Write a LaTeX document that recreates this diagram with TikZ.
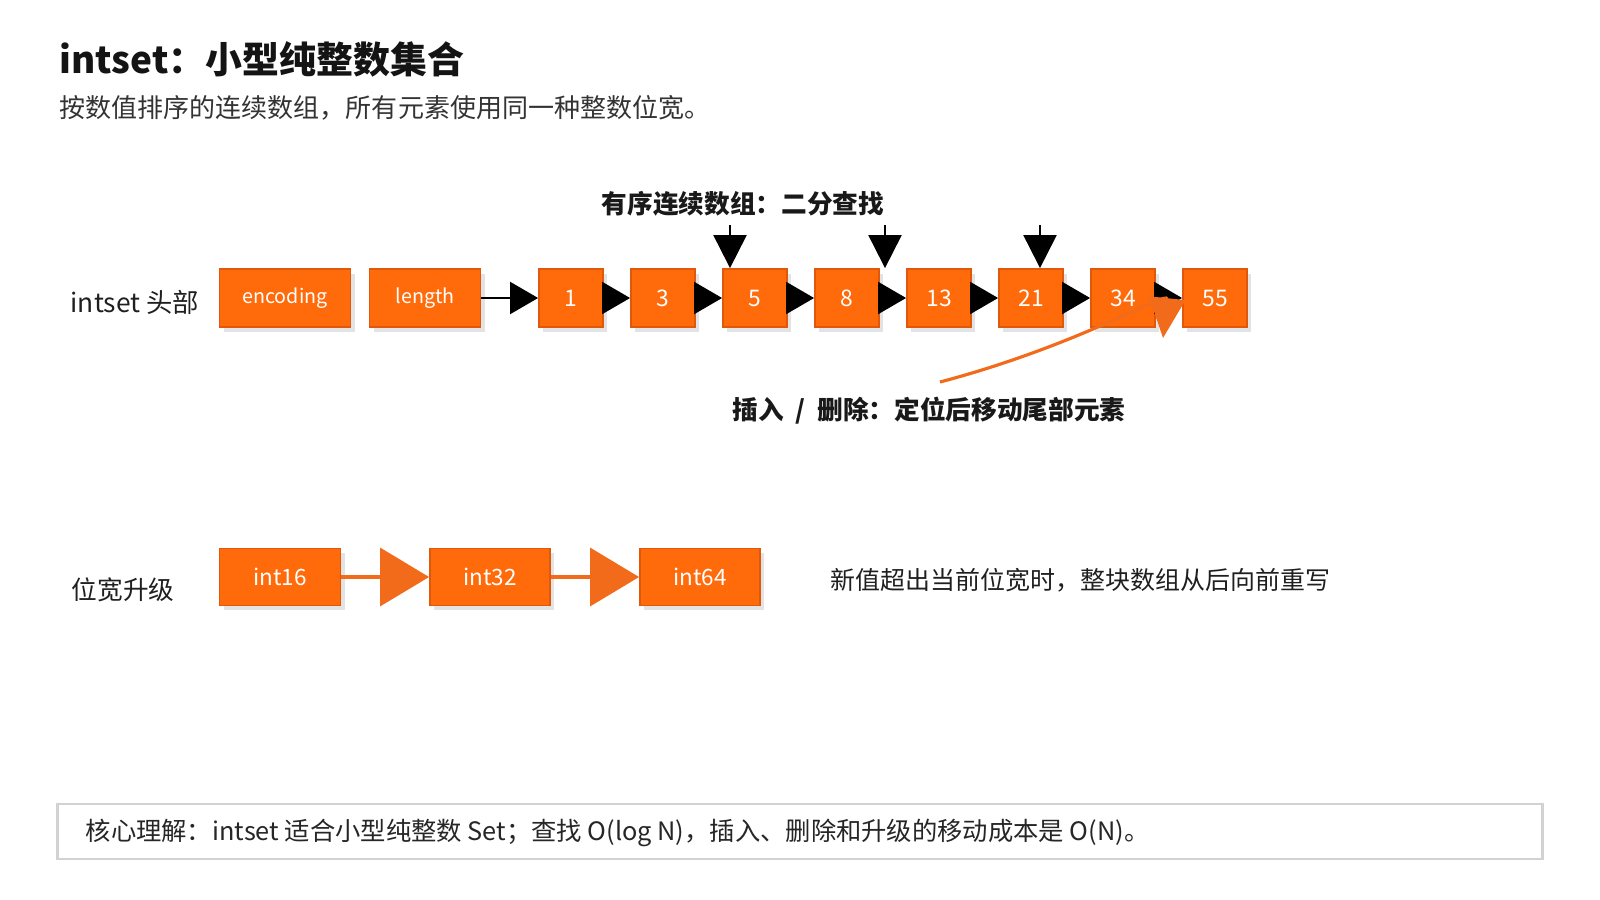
\documentclass[tikz,border=0pt]{standalone}
\usepackage{fontspec}
\setmainfont{Noto Sans CJK SC}
\usetikzlibrary{arrows.meta,shadows}
\definecolor{boxorange}{HTML}{FF6A0A}
\definecolor{boxedge}{HTML}{E0580C}
\definecolor{lineorange}{HTML}{F26B1A}
\definecolor{textgray}{HTML}{333333}
\definecolor{framegray}{HTML}{D2D2D2}

\begin{document}
\begin{tikzpicture}[x=0.01cm,y=-0.01cm,
  cell/.style={draw=boxedge, line width=0.5pt, fill=boxorange, text=white, inner sep=0pt,
    minimum height=0.58cm, drop shadow={opacity=0.22, shadow xshift=1.2pt, shadow yshift=-1.4pt}},
  numcell/.style={cell, minimum width=0.64cm, font=\fontsize{6.5}{7}\selectfont},
  widecell/.style={cell, minimum height=0.57cm, minimum width=1.2cm, font=\fontsize{6.4}{7}\selectfont},
  blkarrow/.style={line width=0.6pt, -{Triangle[length=0.28cm, width=0.32cm]}},
  probearrow/.style={line width=0.6pt, -{Triangle[length=0.33cm, width=0.33cm]}},
  widenarrow/.style={lineorange, line width=1pt, -{Triangle[length=0.49cm, width=0.58cm]}},
  boldlabel/.style={font=\fontsize{7.3}{8}\selectfont\bfseries, text=black!90},
  lefttext/.style={anchor=west, inner sep=0pt}]
\useasboundingbox (0,0) rectangle (1600,900);

% title
\node[lefttext, font=\fontsize{10.5}{12}\selectfont\bfseries, text=black!92] (title) at (59,59)
{intset：小型纯整数集合};
\node[lefttext, font=\fontsize{7.4}{8}\selectfont, text=textgray] (sub) at (59,108)
{按数值排序的连续数组，所有元素使用同一种整数位宽。};

% row 1: header + sorted array
\node[lefttext, font=\fontsize{7.5}{8}\selectfont, text=black!88] (hdr) at (70,302) {intset 头部};
\node[cell, minimum width=1.31cm, font=\fontsize{5.6}{6}\selectfont] (enc) at (285,298) {encoding};
\node[cell, minimum width=1.11cm, font=\fontsize{5.6}{6}\selectfont] (len) at (425,298) {length};
\node[numcell] (n1) at (571,298) {1};
\node[numcell] (n3) at (663,298) {3};
\node[numcell] (n5) at (755,298) {5};
\node[numcell] (n8) at (847,298) {8};
\node[numcell] (n13) at (939,298) {13};
\node[numcell] (n21) at (1031,298) {21};
\node[numcell] (n34) at (1123,298) {34};
\node[numcell] (n55) at (1215,298) {55};

\draw[blkarrow] (len) -- (n1);
\draw[blkarrow] (n1) -- (n3);
\draw[blkarrow] (n3) -- (n5);
\draw[blkarrow] (n5) -- (n8);
\draw[blkarrow] (n8) -- (n13);
\draw[blkarrow] (n13) -- (n21);
\draw[blkarrow] (n21) -- (n34);
\draw[blkarrow] (n34) -- (n55);

% binary search probes
\node[boldlabel] (bin) at (743,204) {有序连续数组：二分查找};
\coordinate (p1) at (730,225);
\coordinate (p2) at (885,225);
\coordinate (p3) at (1040,225);
\draw[probearrow] (p1) -- (p1 |- n5.north);
\draw[probearrow] (p2) -- (p2 |- n8.north);
\draw[probearrow] (p3) -- (p3 |- n21.north);

% insert / delete
\node[boldlabel] (del) at (929,411) {插入\hspace{0.06cm} / \hspace{0.06cm}删除：定位后移动尾部元素};
\coordinate (ins) at (1163,338);
\draw[lineorange, line width=0.9pt, -{Triangle[length=0.40cm, width=0.36cm]}]
  ([xshift=0.11cm, yshift=0.03cm]del.north) .. controls (1080,345) and (1168,290) .. (ins);

% row 2: width upgrade
\node[lefttext, font=\fontsize{7.3}{8}\selectfont, text=black!88] (up) at (71,590) {位宽升级};
\node[widecell, minimum width=1.21cm] (i16) at (280,577) {int16};
\node[widecell] (i32) at (490,577) {int32};
\node[widecell] (i64) at (700,577) {int64};
\draw[widenarrow] (i16) -- (i32);
\draw[widenarrow] (i32) -- (i64);
\node[lefttext, font=\fontsize{7.1}{8}\selectfont, text=black!88] (rw) at (830,580)
{新值超出当前位宽时，整块数组从后向前重写};

% takeaway
\node[draw=framegray, line width=0.8pt, fill=white, minimum width=14.84cm, minimum height=0.55cm,
  inner sep=0pt] (key) at (800,831.5) {};
\node[lefttext, font=\fontsize{7.2}{8}\selectfont, text=black!85] (keytxt) at (85,833)
{核心理解：intset 适合小型纯整数 Set；查找 O(log N)，插入、删除和升级的移动成本是 O(N)。};
\end{tikzpicture}
\end{document}
